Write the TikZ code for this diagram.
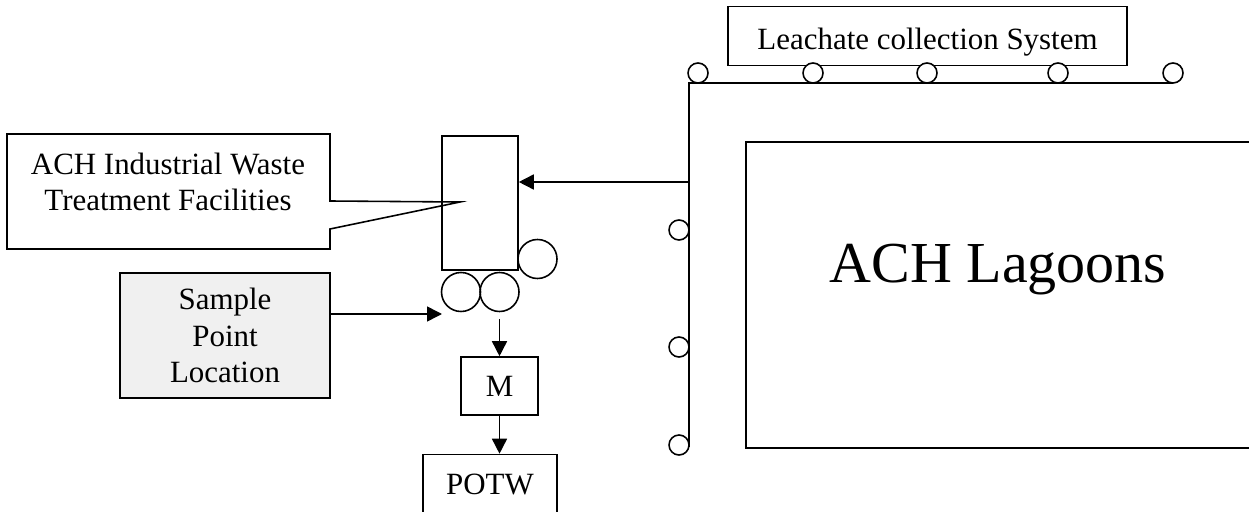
\documentclass[tikz,border=0pt]{standalone}
\usepackage{fontspec}
\setmainfont{Liberation Serif}
\usetikzlibrary{arrows.meta}

\begin{document}
\begin{tikzpicture}[x=0.2mm,y=-0.2mm,line width=0.9pt,
	txt/.style={font=\fontsize{17.6}{20.3}\selectfont,align=center,inner sep=0pt},
	box/.style={draw,rectangle,inner sep=0pt,font=\fontsize{17.6}{20.3}\selectfont},
	pump/.style={draw,circle,inner sep=0pt,minimum size=7.8mm},
	valve/.style={draw,circle,inner sep=0pt,minimum size=4mm},
	flow/.style={-{Triangle[length=3mm,width=3mm]}}]
	\useasboundingbox (0,0) rectangle (1249,512);
	%treatment plant
	\node[box,minimum width=15.2mm,minimum height=26.8mm] (tank) at (480,203) {};
	\node[pump] (pR) at (537.5,259) {};
	\node[pump] (pA) at (461,292) {};
	\node[pump] (pB) at (499.5,292) {};
	\node[box,minimum width=15.4mm,minimum height=11.6mm] (M) at (499.5,386) {M};
	\node[box,minimum width=26.8mm,minimum height=12mm] (potw) at (490,484.5) {POTW};
	\draw[flow] ([yshift=-1.3mm]pB.south) -- (M.north);
	\draw[flow] (M.south) -- (M.south |- potw.north);
	%callout
	\node[txt] (iwtf) at (168,182) {ACH Industrial Waste\\Treatment Facilities};
	\coordinate (tip) at (460,202);
	\draw (330,201) -- (tip) -- (330,229) -- (330,249) -- (7,249) -- (7,134) -- (330,134) -- cycle;
	%sample point
	\node[box,fill=black!6,minimum width=42mm,minimum height=25mm,align=center,
		font=\fontsize{17.6}{21}\selectfont] (spl) at (225,335.5) {Sample\\Point\\Location};
	\coordinate (spt) at (442,314);
	\draw[flow] (spl.east |- spt) -- (spt);
	%leachate collection
	\node[box,minimum width=79.8mm,minimum height=11.8mm,text height=5.4mm,text depth=0pt] (lcs) at (927.5,36) {Leachate collection System};
	\coordinate (lc) at (689,83);
	\coordinate (lend) at (1173,83);
	\coordinate (lbot) at (689,447);
	\draw (lend) -- (lc) -- (lbot);
	\foreach \px in {698,813,927,1058,1173}
		\node[valve,fill=white] (t\px) at (\px,73) {};
	\foreach \py in {230,347,445}
		\node[valve,fill=white] (s\py) at (679,\py) {};
	\coordinate (tap) at (689,182);
	\draw[flow] (tap) -- (tap -| tank.east);
	%lagoons
	\draw (1249,142) -- (746,142) -- (746,448) -- (1249,448);
	\node[font=\fontsize{33}{40}\selectfont,anchor=base] (lag) at (998,283) {ACH Lagoons};
\end{tikzpicture}
\end{document}
